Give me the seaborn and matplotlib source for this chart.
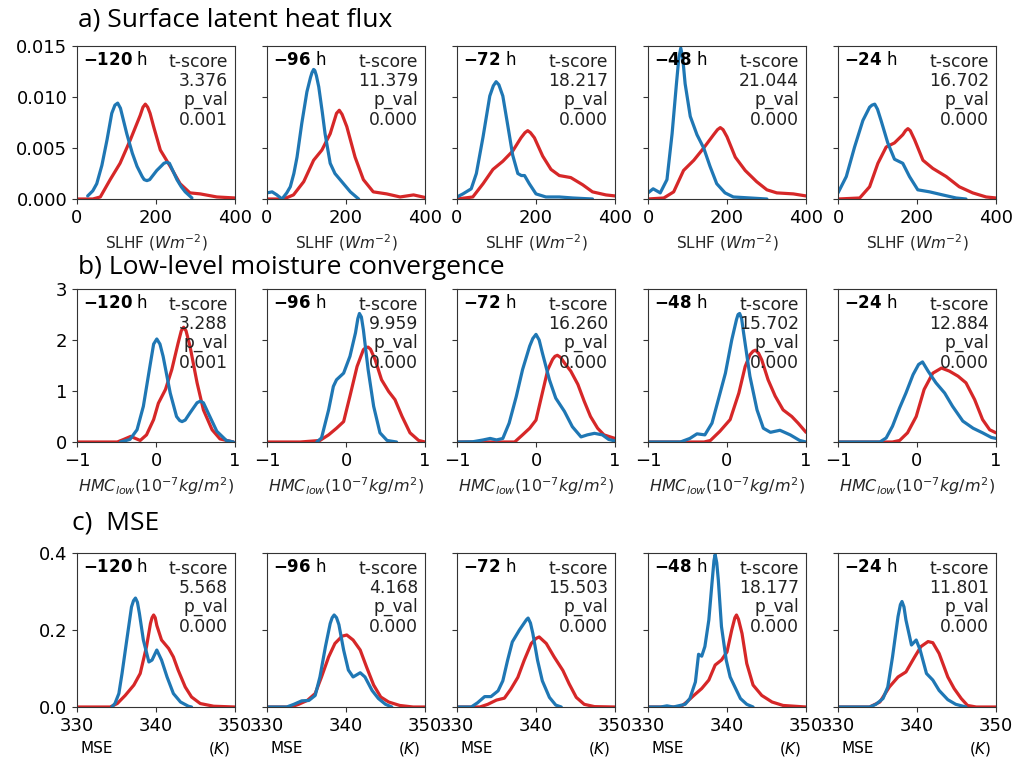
import matplotlib
matplotlib.use('Agg')
import matplotlib.pyplot as plt
import seaborn as sns

hours = [-120, -96, -72, -48, -24]

# a) Surface latent heat flux -- curves (x, y)
slhf_blue = {
    -120: ([27, 40, 50, 63, 76, 88, 96, 103, 110, 126, 140, 152, 165, 170, 177, 184, 190, 202, 215, 220, 227, 234,
            240, 253, 264, 274, 291],
           [0.0003, 0.0008, 0.0015, 0.0033, 0.0058, 0.0084, 0.0092, 0.0094, 0.0089, 0.0064, 0.0045, 0.0032, 0.0022,
            0.0019, 0.0018, 0.0019, 0.0022, 0.0028, 0.0033, 0.0035, 0.0036, 0.0035, 0.0030, 0.0019, 0.0012, 0.0007,
            0.0001]),
    -96: ([0, 13, 25, 38, 50, 59, 68, 76, 88, 101, 110, 114, 118, 121, 125, 131, 140, 147, 160, 172, 185, 211, 232],
          [0.0006, 0.0007, 0.0004, 0.0, 0.0006, 0.0012, 0.0025, 0.0041, 0.0074, 0.0105, 0.0119, 0.0124, 0.0127,
           0.0126, 0.0121, 0.0110, 0.0085, 0.0064, 0.0035, 0.0025, 0.0019, 0.0007, 0.0]),
    -72: ([0, 15, 36, 49, 66, 83, 92, 99, 106, 116, 129, 141, 154, 163, 171, 183, 200, 225, 259, 293, 343],
          [0.0002, 0.0005, 0.0010, 0.0025, 0.0061, 0.0101, 0.0111, 0.0115, 0.0112, 0.0101, 0.0071, 0.0043, 0.0025,
           0.0023, 0.0023, 0.0015, 0.0005, 0.0002, 0.0002, 0.0001, 0.0]),
    -48: ([0, 13, 31, 48, 61, 72, 78, 83, 88, 94, 107, 124, 141, 157, 174, 195, 216, 259, 301],
          [0.0006, 0.0010, 0.0006, 0.0019, 0.0064, 0.0113, 0.0138, 0.0148, 0.0138, 0.0113, 0.0081, 0.0063, 0.0050,
           0.0032, 0.0015, 0.0006, 0.0002, 0.0001, 0.0]),
    -24: ([0, 21, 42, 63, 80, 86, 93, 100, 109, 126, 143, 164, 181, 202, 232, 265, 299, 324],
          [0.0006, 0.0022, 0.0051, 0.0077, 0.0090, 0.0092, 0.0093, 0.0088, 0.0077, 0.0055, 0.0039, 0.0035, 0.0022,
           0.0009, 0.0007, 0.0004, 0.0001, 0.0]),
}
slhf_red = {
    -120: ([0, 40, 59, 84, 109, 135, 160, 167, 173, 179, 185, 194, 211, 236, 261, 286, 312, 354, 400],
           [0, 0, 0.0002, 0.0019, 0.0035, 0.0058, 0.0082, 0.0090, 0.0093, 0.0090, 0.0084, 0.0071, 0.0048, 0.0032,
            0.0015, 0.0006, 0.0005, 0.0002, 0.0001]),
    -96: ([0, 42, 67, 93, 118, 139, 160, 176, 183, 190, 202, 223, 244, 269, 303, 337, 371, 400],
          [0, 0, 0.0004, 0.0017, 0.0038, 0.0048, 0.0064, 0.0084, 0.0087, 0.0083, 0.0071, 0.0041, 0.0019, 0.0007,
           0.0005, 0.0002, 0.0004, 0.00015]),
    -72: ([0, 40, 66, 91, 116, 141, 162, 172, 179, 186, 196, 217, 238, 259, 288, 318, 343, 377, 400],
          [0, 0.0002, 0.0015, 0.0029, 0.0037, 0.0047, 0.0060, 0.0065, 0.0067, 0.0065, 0.0060, 0.0042, 0.0029,
           0.0023, 0.0021, 0.0014, 0.0007, 0.0004, 0.0003]),
    -48: ([0, 40, 65, 90, 116, 141, 166, 176, 183, 190, 200, 221, 246, 275, 301, 326, 368, 400],
          [0, 0.0001, 0.0007, 0.0028, 0.0038, 0.0050, 0.0063, 0.0068, 0.0070, 0.0068, 0.0061, 0.0041, 0.0028,
           0.0017, 0.0009, 0.0006, 0.0005, 0.0003]),
    -24: ([0, 55, 80, 101, 122, 143, 164, 171, 177, 183, 194, 215, 240, 274, 307, 341, 375, 400],
          [0, 0.0001, 0.0012, 0.0035, 0.0051, 0.0055, 0.0063, 0.0067, 0.0069, 0.0067, 0.0058, 0.0038, 0.0030,
           0.0022, 0.0012, 0.0006, 0.0002, 0.0001]),
}
slhf_t = ['3.376', '11.379', '18.217', '21.044', '16.702']
slhf_p = ['0.001', '0.000', '0.000', '0.000', '0.000']

# b) Low-level moisture convergence
hmc_blue = {
    -120: ([-0.45, -0.33, -0.24, -0.16, -0.07, -0.03, 0.01, 0.05, 0.09, 0.18, 0.26, 0.30, 0.33, 0.37, 0.43, 0.52,
            0.56, 0.60, 0.66, 0.77, 0.89, 0.98],
           [0, 0.05, 0.24, 0.7, 1.55, 1.92, 2.02, 1.92, 1.68, 0.96, 0.5, 0.42, 0.4, 0.43, 0.57, 0.77, 0.8, 0.77,
            0.57, 0.21, 0.03, 0]),
    -96: ([-0.37, -0.31, -0.22, -0.16, -0.12, -0.03, 0.05, 0.12, 0.15, 0.17, 0.195, 0.22, 0.28, 0.35, 0.43, 0.52,
           0.64],
          [0, 0.08, 0.63, 1.09, 1.22, 1.35, 1.68, 2.14, 2.42, 2.52, 2.45, 2.2, 1.42, 0.7, 0.18, 0.03, 0]),
    -72: ([-1, -0.8, -0.67, -0.58, -0.5, -0.42, -0.34, -0.25, -0.17, -0.08, -0.04, 0.0, 0.04, 0.08, 0.17, 0.25,
           0.36, 0.46, 0.57, 0.65, 0.74, 0.84, 0.92, 1.0],
          [0, 0.005, 0.04, 0.07, 0.04, 0.07, 0.37, 0.89, 1.42, 1.88, 2.03, 2.11, 2.0, 1.75, 1.22, 0.86, 0.6, 0.3,
           0.1, 0.14, 0.17, 0.14, 0.05, 0.02]),
    -48: ([-1, -0.59, -0.47, -0.38, -0.28, -0.19, -0.11, -0.02, 0.06, 0.12, 0.14, 0.16, 0.185, 0.21, 0.29, 0.38,
           0.46, 0.55, 0.67, 0.8, 0.92, 1.0],
          [0, 0, 0.07, 0.16, 0.14, 0.37, 0.83, 1.35, 2.0, 2.4, 2.5, 2.52, 2.42, 2.14, 1.29, 0.63, 0.27, 0.19, 0.23,
           0.14, 0.03, 0]),
    -24: ([-1, -0.47, -0.39, -0.31, -0.22, -0.14, -0.05, 0.02, 0.07, 0.14, 0.24, 0.35, 0.45, 0.58, 0.71, 0.83,
           0.94, 1.0],
          [0, 0, 0.08, 0.31, 0.67, 0.96, 1.32, 1.52, 1.57, 1.39, 1.16, 0.96, 0.7, 0.41, 0.27, 0.18, 0.09, 0.07]),
}
hmc_red = {
    -120: ([-1, -0.49, -0.41, -0.32, -0.2, -0.12, -0.03, 0.03, 0.12, 0.2, 0.28, 0.32, 0.35, 0.38, 0.43, 0.52,
            0.6, 0.71, 0.81, 0.98],
           [0, 0, 0.05, 0.11, 0.03, 0.14, 0.44, 0.76, 1.03, 1.42, 1.94, 2.18, 2.25, 2.18, 1.88, 1.16, 0.63, 0.24,
            0.06, 0]),
    -96: ([-1, -0.58, -0.33, -0.22, -0.12, -0.03, 0.05, 0.14, 0.22, 0.25, 0.28, 0.31, 0.37, 0.45, 0.54, 0.62,
           0.71, 0.81, 0.92, 1.0],
          [0, 0, 0.03, 0.14, 0.27, 0.4, 0.9, 1.48, 1.81, 1.85, 1.86, 1.82, 1.61, 1.22, 0.99, 0.83, 0.5, 0.18,
           0.03, 0]),
    -72: ([-1, -0.27, -0.17, -0.08, 0.0, 0.08, 0.15, 0.21, 0.24, 0.27, 0.31, 0.36, 0.44, 0.53, 0.61, 0.69, 0.78,
           0.86, 1.0],
          [0, 0, 0.14, 0.27, 0.43, 0.96, 1.42, 1.62, 1.68, 1.7, 1.66, 1.55, 1.39, 1.13, 0.8, 0.5, 0.27, 0.14,
           0.07]),
    -48: ([-1, -0.29, -0.21, -0.09, 0.04, 0.15, 0.23, 0.29, 0.33, 0.36, 0.40, 0.44, 0.52, 0.61, 0.71, 0.82, 0.9,
           1.0],
          [0, 0, 0.03, 0.21, 0.44, 0.96, 1.48, 1.71, 1.78, 1.8, 1.74, 1.61, 1.22, 0.9, 0.63, 0.5, 0.37, 0.19]),
    -24: ([-1, -0.31, -0.22, -0.12, -0.01, 0.09, 0.2, 0.31, 0.41, 0.52, 0.62, 0.73, 0.83, 0.92, 1.0],
          [0, 0, 0.03, 0.18, 0.5, 1.03, 1.35, 1.45, 1.39, 1.29, 1.16, 0.83, 0.44, 0.24, 0.18]),
}
hmc_t = ['3.288', '9.959', '16.260', '15.702', '12.884']
hmc_p = ['0.001', '0.000', '0.000', '0.000', '0.000']

# c) MSE
mse_blue = {
    -120: ([334.4, 334.8, 335.3, 335.7, 336.3, 336.9, 337.15, 337.4, 337.65, 337.9, 338.4, 339.1, 339.5, 340.1,
            340.7, 341.4, 342.2, 343.1, 344.1, 344.5],
           [0, 0.009, 0.035, 0.087, 0.174, 0.26, 0.276, 0.283, 0.272, 0.243, 0.174, 0.117, 0.122, 0.148, 0.122,
            0.078, 0.035, 0.013, 0.002, 0]),
    -96: ([330, 332.5, 333.4, 334.4, 335.3, 336.1, 336.7, 337.4, 338.0, 338.25, 338.5, 338.8, 339.1, 339.7, 340.3,
           340.9, 341.8, 342.4, 343.3, 344.1, 345.0, 345.8],
          [0, 0, 0.007, 0.016, 0.017, 0.03, 0.078, 0.157, 0.217, 0.232, 0.239, 0.232, 0.214, 0.148, 0.096, 0.078,
           0.089, 0.078, 0.043, 0.022, 0.007, 0]),
    -72: ([330, 331.8, 332.6, 333.5, 334.3, 335.2, 335.8, 336.4, 337.0, 337.9, 338.5, 338.8, 339.0, 339.3, 339.6,
           340.2, 340.8, 341.7, 342.5, 343.2],
          [0, 0, 0.011, 0.027, 0.027, 0.042, 0.068, 0.121, 0.169, 0.2, 0.218, 0.227, 0.231, 0.218, 0.191, 0.121,
           0.068, 0.025, 0.005, 0]),
    -48: ([330, 331.6, 332.4, 333.2, 334.7, 335.3, 336.0, 336.4, 336.8, 337.2, 337.7, 338.1, 338.35, 338.5, 338.7,
           338.9, 339.3, 339.9, 340.4, 341.0, 341.7, 342.5, 343.3],
          [0, 0, 0.003, 0, 0.007, 0.022, 0.065, 0.137, 0.132, 0.157, 0.226, 0.322, 0.38, 0.396, 0.375, 0.33,
           0.209, 0.122, 0.078, 0.052, 0.022, 0.007, 0]),
    -24: ([330, 334.0, 334.8, 335.7, 336.3, 336.9, 337.6, 337.9, 338.1, 338.35, 338.6, 339.3, 339.9, 340.4, 341.2,
           342.0, 342.8, 343.9, 344.9, 346.2],
          [0, 0, 0.007, 0.022, 0.052, 0.13, 0.235, 0.266, 0.274, 0.26, 0.226, 0.161, 0.174, 0.148, 0.087, 0.07,
           0.043, 0.019, 0.007, 0]),
}
mse_red = {
    -120: ([330, 334.2, 335.1, 336.1, 337.2, 338.0, 338.8, 339.3, 339.5, 339.7, 339.9, 340.1, 340.7, 341.6, 342.2,
            342.8, 343.7, 344.5, 345.6, 347.3, 350],
           [0, 0, 0.009, 0.03, 0.057, 0.087, 0.157, 0.217, 0.232, 0.239, 0.232, 0.212, 0.174, 0.152, 0.13, 0.096,
            0.052, 0.026, 0.009, 0.002, 0]),
    -96: ([330, 333.0, 334.0, 335.1, 336.1, 336.9, 337.8, 338.6, 339.5, 340.1, 340.9, 341.8, 342.6, 343.5, 344.4,
           345.4, 346.8, 348.5, 350],
          [0, 0, 0.007, 0.017, 0.035, 0.078, 0.13, 0.165, 0.184, 0.187, 0.174, 0.148, 0.104, 0.057, 0.026, 0.013,
           0.004, 0, 0]),
    -72: ([330, 332.9, 333.9, 335.0, 336.0, 336.8, 337.7, 338.5, 339.4, 340.0, 340.4, 341.3, 342.3, 343.4, 344.2,
           345.1, 346.1, 347.4, 350],
          [0, 0, 0.007, 0.018, 0.023, 0.046, 0.077, 0.121, 0.165, 0.178, 0.182, 0.165, 0.13, 0.095, 0.06, 0.025,
           0.007, 0.001, 0]),
    -48: ([330, 334.1, 334.9, 335.8, 336.8, 337.7, 338.5, 339.3, 340.0, 340.6, 341.0, 341.2, 341.45, 341.9, 342.5,
           343.3, 344.4, 345.7, 347.1, 350],
          [0, 0, 0.013, 0.03, 0.048, 0.07, 0.109, 0.122, 0.143, 0.2, 0.232, 0.239, 0.228, 0.191, 0.113, 0.057,
           0.03, 0.013, 0.004, 0]),
    -24: ([330, 334.0, 335.3, 336.5, 337.6, 338.6, 339.7, 340.5, 341.4, 342.0, 342.8, 343.9, 344.7, 345.6, 346.4,
           347.5, 350],
          [0, 0, 0.013, 0.052, 0.078, 0.091, 0.13, 0.157, 0.17, 0.167, 0.139, 0.078, 0.048, 0.022, 0.004, 0, 0]),
}
mse_t = ['5.568', '4.168', '15.503', '18.177', '11.801']
mse_p = ['0.000', '0.000', '0.000', '0.000', '0.000']

BLUE = '#1f77b4'
RED = '#d62728'

sns.set_style('ticks')
plt.rcParams['font.family'] = ['DejaVu Sans']
plt.rcParams['text.color'] = 'black'
plt.rcParams['axes.edgecolor'] = '#333333'
plt.rcParams['xtick.color'] = '#333333'
plt.rcParams['ytick.color'] = '#333333'
plt.rcParams['xtick.labelcolor'] = 'black'
plt.rcParams['ytick.labelcolor'] = 'black'
plt.rcParams['lines.solid_joinstyle'] = 'round'
plt.rcParams['lines.solid_capstyle'] = 'round'

fig = plt.figure(figsize=(10.18, 7.6), dpi=100)
W, H = 1018.0, 760.0
lefts = [77, 267, 457, 648, 838]
aw = 158


def make_row(top, bottom, blue, red, tvals, pvals, xlim, xticks, xticklabels, ylim, yticks, yticklabels):
    axes = []
    for i, h in enumerate(hours):
        ax = fig.add_axes([lefts[i] / W, 1 - bottom / H, aw / W, (bottom - top) / H])
        rx, ry = red[h]
        bx, by = blue[h]
        sns.lineplot(x=rx, y=ry, ax=ax, color=RED, lw=2.3, legend=False)
        sns.lineplot(x=bx, y=by, ax=ax, color=BLUE, lw=2.3, legend=False)
        ax.set_xlim(xlim)
        ax.set_ylim(ylim)
        ax.set_xticks(xticks)
        ax.set_xticklabels(xticklabels, fontsize=13)
        ax.set_yticks(yticks)
        if i == 0:
            ax.set_yticklabels(yticklabels, fontsize=13)
        else:
            ax.set_yticklabels([])
        ax.set_ylabel('')
        ax.text(0.04, 0.965, r'$\mathbf{%d}$ h' % h, transform=ax.transAxes,
                ha='left', va='top', fontsize=12)
        ax.text(0.955, 0.955, 't-score\n%s\np_val\n%s' % (tvals[i], pvals[i]),
                transform=ax.transAxes, ha='right', va='top', fontsize=12.3,
                linespacing=1.08, color='#222222')
        axes.append(ax)
    return axes


row_a = make_row(46, 199, slhf_blue, slhf_red, slhf_t, slhf_p, (0, 400), [0, 200, 400],
                 ['0', '200', '400'], (0, 0.015), [0, 0.005, 0.010, 0.015],
                 ['0.000', '0.005', '0.010', '0.015'])
for ax in row_a:
    ax.set_xlabel(r'SLHF ($Wm^{-2}$)', fontsize=11)

row_b = make_row(289, 442, hmc_blue, hmc_red, hmc_t, hmc_p, (-1, 1), [-1, 0, 1],
                 ['\u22121', '0', '1'], (0, 3), [0, 1, 2, 3], ['0', '1', '2', '3'])
for ax in row_b:
    ax.set_xlabel(r'$HMC_{low}(10^{-7}kg/m^2)$', fontsize=11.5)

row_c = make_row(553, 707, mse_blue, mse_red, mse_t, mse_p, (330, 350), [330, 340, 350],
                 ['330', '340', '350'], (0, 0.4), [0, 0.2, 0.4], ['0.0', '0.2', '0.4'])
for ax in row_c:
    ax.set_xlabel('')
    ax.text(0.02, -0.27, 'MSE', transform=ax.transAxes, ha='left', va='center', fontsize=11)
    ax.text(0.97, -0.27, r'$(K)$', transform=ax.transAxes, ha='right', va='center', fontsize=11)

title_font = ['Open Sans', 'DejaVu Sans']
fig.text(78 / W, 1 - 20 / H, 'a) Surface latent heat flux', fontsize=19, family=title_font,
         ha='left', va='center', color='black')
fig.text(78 / W, 1 - 268 / H, 'b) Low-level moisture convergence', fontsize=19, family=title_font,
         ha='left', va='center', color='black')
fig.text(72 / W, 1 - 523 / H, 'c)  MSE', fontsize=19, family=title_font,
         ha='left', va='center', color='black')

fig.savefig('out.png', dpi=100)
